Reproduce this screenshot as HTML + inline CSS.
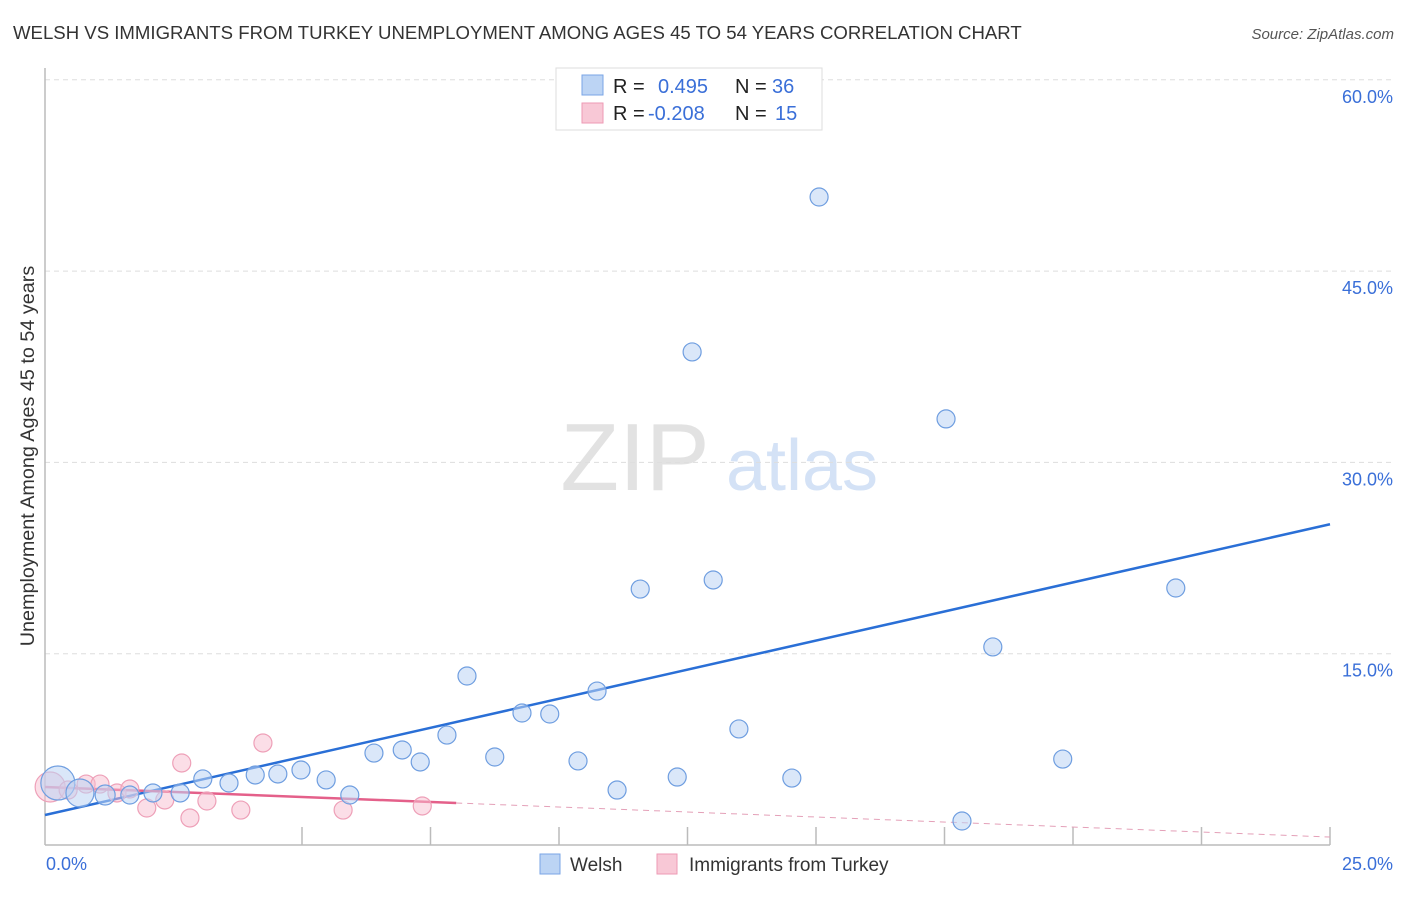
<!DOCTYPE html>
<html><head><meta charset="utf-8"><style>
body{margin:0;background:#fff;font-family:"Liberation Sans",sans-serif}
svg text{font-family:"Liberation Sans",sans-serif}
</style></head><body>
<svg width="1406" height="892">
<text x="13" y="39" font-size="18.6" fill="#333">WELSH VS IMMIGRANTS FROM TURKEY UNEMPLOYMENT AMONG AGES 45 TO 54 YEARS CORRELATION CHART</text>
<text x="1394" y="39" font-size="15" fill="#555" font-style="italic" text-anchor="end">Source: ZipAtlas.com</text>
<g>
<text x="635" y="490" font-size="96" fill="#e2e2e2" font-family="Liberation Serif" text-anchor="middle">ZIP</text>
<text x="802" y="490" font-size="72" fill="#d4e2f6" text-anchor="middle">atlas</text>
</g>
<g id="grid"></g>
<g id="axes"></g>
<g id="lines"></g>
<g id="points"></g>
<text transform="translate(34,456) rotate(-90)" font-size="19.8" fill="#333" text-anchor="middle">Unemployment Among Ages 45 to 54 years</text>
<text x="46" y="870" font-size="18" fill="#3a6fd8">0.0%</text>
<text x="1393" y="870" font-size="18" fill="#3a6fd8" text-anchor="end">25.0%</text>
<g>
<rect x="556" y="68" width="266" height="62" fill="#fff" stroke="#ddd"/>
<rect x="582" y="75" width="21" height="20" fill="#bcd4f4" stroke="#7aa5e6"/>
<rect x="582" y="103" width="21" height="20" fill="#f8c8d6" stroke="#ee9ab4"/>
<text x="613" y="93" font-size="20" fill="#222">R =</text>
<text x="658" y="93" font-size="20" fill="#3a6fd8">0.495</text>
<text x="735" y="93" font-size="20" fill="#222">N =</text>
<text x="772" y="93" font-size="20" fill="#3a6fd8">36</text>
<text x="613" y="120" font-size="20" fill="#222">R =</text>
<text x="648" y="120" font-size="20" fill="#3a6fd8">-0.208</text>
<text x="735" y="120" font-size="20" fill="#222">N =</text>
<text x="775" y="120" font-size="20" fill="#3a6fd8">15</text>
</g>
<g>
<rect x="540" y="854" width="20" height="20" fill="#bcd4f4" stroke="#7aa5e6"/>
<text x="570" y="871" font-size="19" fill="#333">Welsh</text>
<rect x="657" y="854" width="20" height="20" fill="#f8c8d6" stroke="#ee9ab4"/>
<text x="689" y="871" font-size="19" fill="#333">Immigrants from Turkey</text>
</g>
</svg>
<script>
const yTicks=[15,30,45,60];
const xTickVals=[5,7.5,10,12.5,15,17.5,20,22.5,25];
const welshX=[0.25,0.68,1.17,1.65,2.10,2.63,3.07,3.58,4.09,4.53,4.98,5.47,5.93,6.40,6.95,7.30,7.82,8.21,8.75,9.28,9.82,10.37,10.74,11.13,11.58,12.30,12.59,13.00,13.50,14.53,15.06,17.53,17.84,18.44,19.80,22.00];
const welshY=[4.86,4.08,3.92,3.92,4.08,4.08,5.18,4.86,5.49,5.57,5.88,5.10,3.92,7.21,7.45,6.51,8.62,13.25,6.90,10.35,10.27,6.59,12.07,4.31,20.07,5.33,38.66,20.78,9.10,5.25,50.81,33.41,1.88,15.53,6.74,20.15];
const welshR=[17,14,10,9,9,9,9,9,9,9,9,9,9,9,9,9,9,9,9,9,9,9,9,9,9,9,9,9,9,9,9,9,9,9,9,9];
const turkX=[0.10,0.45,0.80,1.07,1.40,1.65,1.98,2.33,2.66,2.82,3.15,3.81,4.24,5.80,7.34];
const turkY=[4.55,4.31,4.78,4.78,4.08,4.39,2.90,3.53,6.43,2.12,3.45,2.74,8.00,2.74,3.06];
const turkR=[15,9,9,9,9,9,9,9,9,9,9,9,9,9,9];
const welshFit=[2.35,0.912];
const turkFit=[4.55,-0.157];
const turkSolidEnd=8.0;
const NS='http://www.w3.org/2000/svg';
const sx=v=>45+v/25*1285, sy=v=>845-v/15*191.3;
function mk(t,a,p){const e=document.createElementNS(NS,t);for(const k in a)e.setAttribute(k,a[k]);document.getElementById(p).appendChild(e);return e;}
yTicks.forEach(t=>{
 const l=mk('line',{x1:45,x2:1393,y1:sy(t),y2:sy(t),stroke:'#ddd','stroke-dasharray':'5,4'},'grid');
 
 
 const tx=mk('text',{x:1393,y:sy(t)+23,'font-size':18,fill:'#3a6fd8','text-anchor':'end'},'grid');
 tx.textContent=t.toFixed(1)+'%';
 
 
});
const ya=mk('line',{x1:45,x2:45,y1:68,y2:845,stroke:'#bbb','stroke-width':1.5},'axes');


const xa=mk('line',{x1:45,x2:1330,y1:845,y2:845,stroke:'#bbb','stroke-width':1.5},'axes');


xTickVals.forEach(v=>{
 const t=mk('line',{x1:sx(v),x2:sx(v),y1:827,y2:845,stroke:'#bbb','stroke-width':1.5},'axes');
 
 
});
function pts(X,Y,R,fill,stroke,name){X.forEach((x,i)=>{
 const c=mk('circle',{cx:sx(x),cy:sy(Y[i]),r:R[i],fill:fill,stroke:stroke,'stroke-width':1.2},'points');
 
 
});}
pts(turkX,turkY,turkR,'rgba(248,190,208,0.5)','#eea0b8','turkey-point');
pts(welshX,welshY,welshR,'rgba(188,212,244,0.55)','#6f9ee0','welsh-point');
const bl=mk('line',{x1:sx(0),y1:sy(welshFit[0]),x2:sx(25),y2:sy(welshFit[0]+welshFit[1]*25),stroke:'#2a6fd6','stroke-width':2.5},'lines');


const pl=mk('line',{x1:sx(0),y1:sy(turkFit[0]),x2:sx(turkSolidEnd),y2:sy(turkFit[0]+turkFit[1]*turkSolidEnd),stroke:'#e4608a','stroke-width':2.5},'lines');


const pd=mk('line',{x1:sx(turkSolidEnd),y1:sy(turkFit[0]+turkFit[1]*turkSolidEnd),x2:sx(25),y2:sy(turkFit[0]+turkFit[1]*25),stroke:'#e4a0b8','stroke-width':1,'stroke-dasharray':'6,5'},'lines');


</script>
</body></html>
